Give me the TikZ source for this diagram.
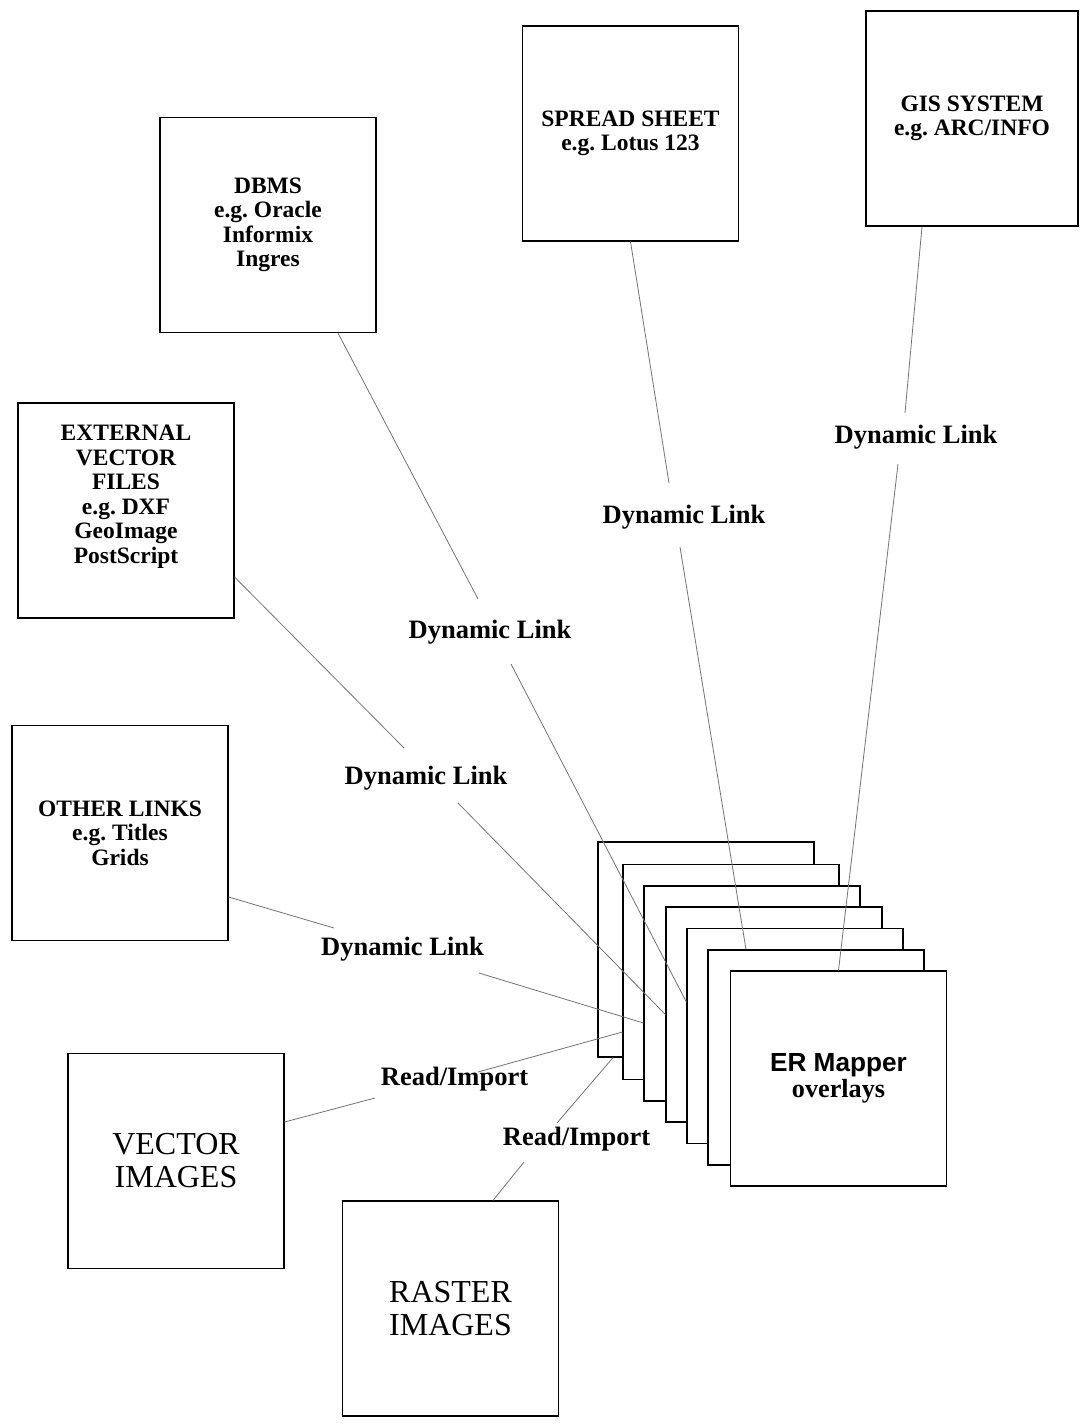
\documentclass[tikz,border=0pt]{standalone}
\usepackage{fontspec}
\setmainfont{Liberation Serif}
\newfontfamily\arialfont{Liberation Sans}
\usetikzlibrary{calc}
\frenchspacing
\tikzset{
  boxnode/.style={draw=black, line width=0.6pt, fill=white, minimum width=108pt,
    minimum height=107.5pt, inner sep=0pt, align=center,
    font=\bfseries\fontsize{11.75}{12.25}\selectfont},
  imgbox/.style={boxnode, font=\fontsize{16}{16.5}\selectfont},
  layer/.style={draw=black, line width=0.6pt, fill=white, minimum width=108pt,
    minimum height=107.5pt, inner sep=0pt},
  link/.style={draw=black!55, line width=0.4pt},
  lbl/.style={font=\bfseries\fontsize{13.25}{14}\selectfont, anchor=base, inner sep=0pt},
}
\begin{document}
\begin{tikzpicture}[x=0.5pt,y=-0.5pt]
\useasboundingbox (0,0) rectangle (1087,1426);
% outer boxes
\node[boxnode] (dbms) at (268,225) {DBMS\\e.g. Oracle\\Informix\\Ingres};
\node[boxnode] (spread) at (630.5,133.5) {SPREAD SHEET\\e.g. Lotus 123};
\node[boxnode, minimum width=106pt] (gis) at (972,118.5) {GIS SYSTEM\\e.g. ARC/INFO};
\node[boxnode] (ext) at (126,510.5) {\raisebox{6.75pt}[\height][\depth]{\begin{tabular}{@{}c@{}}EXTERNAL\\VECTOR\\FILES\\e.g. DXF\\GeoImage\\PostScript\end{tabular}}};
\node[boxnode] (other) at (120,833) {OTHER LINKS\\e.g. Titles\\Grids};
\node[imgbox] (vector) at (176,1161) {VECTOR\\IMAGES};
\node[imgbox] (raster) at (450.5,1308.5) {RASTER\\IMAGES};
% stack of overlays
\node[layer] (s1) at (706,949.5) {};
\node[layer] (s2) at (731,972) {};
\node[layer] (s3) at (752,993.5) {};
\node[layer] (s4) at (774,1014.5) {};
\node[layer] (s5) at (795,1036) {};
\node[layer] (s6) at (816,1057.5) {};
\node[layer, align=center, font=\bfseries\fontsize{13.1}{13}\selectfont] (s7) at (838.5,1078.5) {{\arialfont ER Mapper}\\overlays};
% gap coordinates
\coordinate (g1a) at (905,413); \coordinate (g1b) at (898,464);
\coordinate (g2a) at (669,483); \coordinate (g2b) at (680,547);
\coordinate (g3a) at (478,599); \coordinate (g3b) at (511,664);
\coordinate (g4a) at (404,748); \coordinate (g4b) at (458,803);
\coordinate (g5a) at (334,928); \coordinate (g5b) at (479,973);
\coordinate (g6a) at (375,1098); \coordinate (g6b) at (478,1072);
\coordinate (g7a) at (524,1162); \coordinate (g7b) at (557,1123);
% connectors
\draw[link] ($(gis.south)+(-50,0)$) -- (g1a);
\draw[link] (g1b) -- (s7.north);
\draw[link] (spread.south) -- (g2a);
\draw[link] (g2b) -- ($(s6.north)+(-70,0)$);
\draw[link] ($(dbms.south)+(70,0)$) -- (g3a);
\draw[link] (g3b) -- ($(s5.west)+(0,-34)$);
\draw[link] ($(ext.east)+(0,66.5)$) -- (g4a);
\draw[link] (g4b) -- (s4.west);
\draw[link] ($(other.east)+(0,64)$) -- (g5a);
\draw[link] (g5b) -- ($(s3.west)+(0,29.5)$);
\draw[link] ($(vector.east)+(0,-39)$) -- (g6a);
\draw[link] (g6b) -- ($(s2.west)+(0,60)$);
\draw[link] ($(raster.north)+(42.5,0)$) -- (g7a);
\draw[link] (g7b) -- ($(s1.south)+(-93,0)$);
% labels
\node[lbl] (l1) at (916,443) {Dynamic Link};
\node[lbl] (l2) at (684,523) {Dynamic Link};
\node[lbl] (l3) at (490,638) {Dynamic Link};
\node[lbl] (l4) at (426,784) {Dynamic Link};
\node[lbl] (l5) at (402.5,955) {Dynamic Link};
\node[lbl] (l6) at (454.5,1085) {Read/Import};
\node[lbl] (l7) at (576.5,1145) {Read/Import};
\end{tikzpicture}
\end{document}
